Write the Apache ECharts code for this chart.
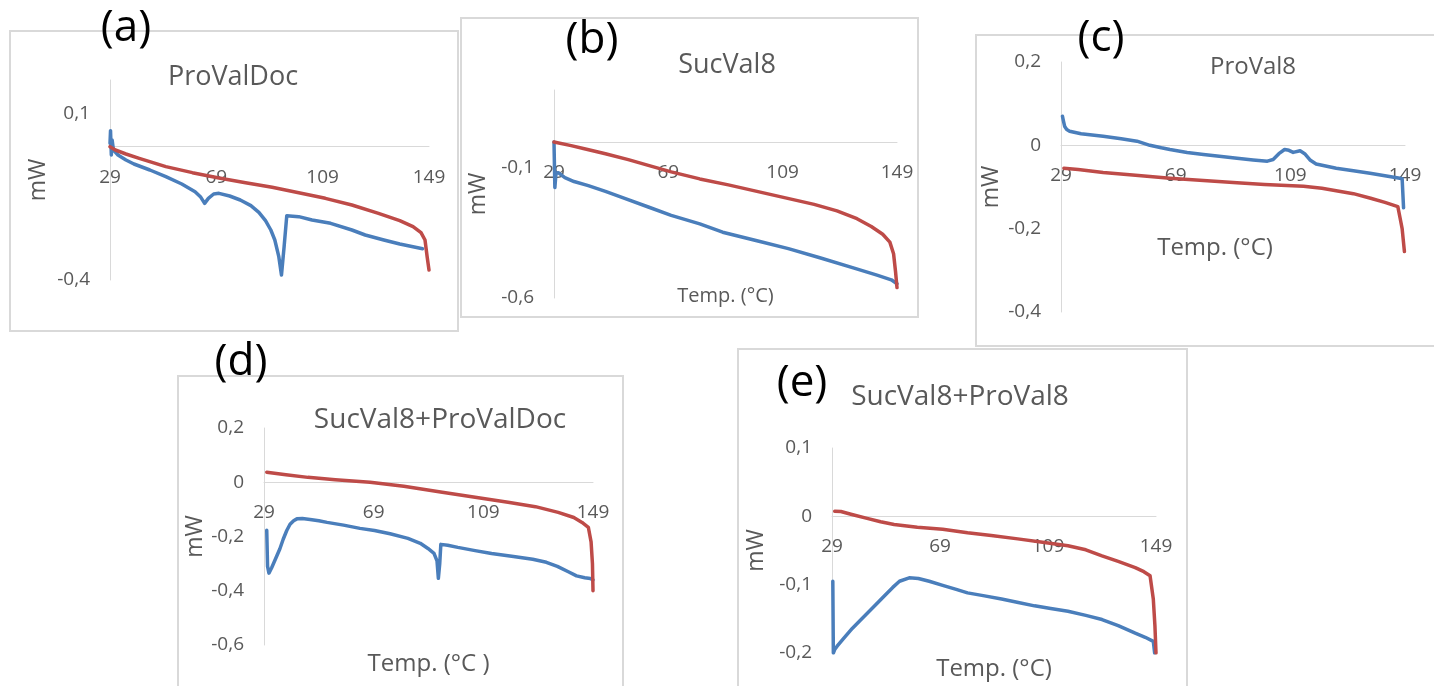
<!DOCTYPE html>
<html>
<head>
<meta charset="utf-8">
<script src="https://cdn.jsdelivr.net/npm/echarts@6/dist/echarts.min.js"></script>
<style>
  html, body { margin: 0; padding: 0; background: #fff; }
  #chart { width: 1434px; height: 686px; }
</style>
</head>
<body>
<div id="chart"></div>
<script>
// temperature ticks shared by all panels
const tempTicks = [29, 69, 109, 149];

// (a) ProValDoc
const aBlue = [[29,0.01],[29.2,0.048],[29.5,-0.025],[29.8,0.02],[30.3,-0.01],[32,-0.025],[35,-0.04],[38,-0.052],[44,-0.07],[50,-0.09],[56,-0.112],[61,-0.135],[63,-0.15],[64.6,-0.17],[66,-0.155],[68,-0.142],[70,-0.14],[74,-0.148],[78,-0.16],[82,-0.177],[85,-0.197],[87.5,-0.222],[89.5,-0.25],[91,-0.28],[92.5,-0.33],[93.5,-0.385],[94.5,-0.3],[95.5,-0.207],[100,-0.21],[105,-0.22],[112,-0.23],[120,-0.25],[125,-0.265],[132,-0.28],[138,-0.292],[146.6,-0.306]];
const aRed = [[29,0],[31,-0.01],[35,-0.022],[40,-0.035],[50,-0.06],[60,-0.078],[70,-0.094],[80,-0.108],[90,-0.122],[100,-0.138],[110,-0.155],[120,-0.175],[130,-0.2],[138,-0.222],[143,-0.24],[146,-0.258],[147.5,-0.28],[148.3,-0.33],[149,-0.37]];
const aTicks = [0.1, -0.4];

// (b) SucVal8
const bBlue = [[29,0],[29.3,-0.175],[29.7,-0.12],[30.5,-0.118],[32.8,-0.137],[36,-0.152],[41,-0.168],[47,-0.19],[53,-0.214],[62,-0.25],[70,-0.282],[80,-0.315],[88,-0.347],[100,-0.38],[111,-0.41],[122,-0.445],[134,-0.485],[142,-0.512],[147,-0.53],[149,-0.545]];
const bRed = [[29,0],[35,-0.014],[40,-0.027],[47,-0.045],[55,-0.068],[62,-0.09],[70,-0.115],[80,-0.142],[90,-0.165],[100,-0.19],[110,-0.215],[120,-0.24],[128,-0.265],[135,-0.295],[140,-0.325],[144,-0.355],[146.5,-0.385],[147.8,-0.43],[148.5,-0.5],[149,-0.56]];
const bTicks = [-0.1, -0.6];

// (c) ProVal8
const cBlue = [[29.5,0.07],[29.8,0.06],[30.3,0.045],[31,0.038],[32,0.034],[36,0.028],[43.7,0.022],[50,0.016],[55.5,0.01],[60,0],[64,-0.006],[67,-0.01],[73,-0.017],[78.7,-0.022],[85,-0.027],[90.4,-0.031],[96,-0.035],[101,-0.038],[103,-0.034],[105,-0.02],[107,-0.01],[108.5,-0.012],[110,-0.017],[112.4,-0.013],[114,-0.02],[116,-0.036],[118,-0.045],[125,-0.055],[131,-0.061],[136.8,-0.067],[142,-0.073],[147.2,-0.079],[148,-0.08],[148.5,-0.15]];
const cRed = [[30,-0.055],[35,-0.058],[43.7,-0.065],[55,-0.072],[67,-0.079],[80,-0.085],[90.4,-0.09],[100,-0.094],[113.6,-0.098],[120,-0.103],[125,-0.109],[131,-0.116],[137,-0.127],[142,-0.137],[146.5,-0.147],[147.3,-0.175],[148,-0.2],[148.8,-0.255]];
const cTicks = [0.2, 0, -0.2, -0.4];

// (d) SucVal8+ProValDoc
const dBlue = [[30,-0.177],[30.3,-0.31],[30.8,-0.335],[31.8,-0.315],[33.3,-0.28],[34.8,-0.245],[36,-0.21],[37.3,-0.178],[38.5,-0.155],[39.8,-0.142],[41,-0.135],[43,-0.134],[45.8,-0.137],[49,-0.142],[52,-0.148],[58,-0.158],[64,-0.17],[69.3,-0.178],[75,-0.19],[81.5,-0.207],[86,-0.225],[88.8,-0.244],[91,-0.262],[92.1,-0.29],[92.6,-0.354],[93.1,-0.3],[93.5,-0.229],[96,-0.232],[99.7,-0.24],[106,-0.252],[112,-0.263],[120,-0.274],[127,-0.284],[132,-0.295],[136,-0.31],[140,-0.33],[143,-0.345],[146,-0.352],[148,-0.355],[149,-0.36]];
const dRed = [[30,0.037],[37,0.028],[45,0.018],[55,0.009],[67.7,0],[80,-0.015],[94,-0.037],[106,-0.055],[118,-0.074],[128,-0.09],[136.3,-0.111],[142,-0.13],[145,-0.148],[147.3,-0.166],[148.3,-0.22],[148.8,-0.3],[149,-0.4]];
const dTicks = [0.2, 0, -0.2, -0.4, -0.6];

// (e) SucVal8+ProVal8
const eBlue = [[29.3,-0.095],[29.5,-0.2],[30,-0.195],[30.9,-0.19],[33,-0.18],[36.5,-0.164],[39.5,-0.152],[42.8,-0.139],[46,-0.126],[49,-0.114],[51.5,-0.104],[54,-0.095],[57.6,-0.09],[61,-0.091],[65,-0.095],[70,-0.101],[75,-0.107],[79.2,-0.112],[85,-0.116],[91.8,-0.121],[98,-0.126],[104,-0.131],[110,-0.135],[116.4,-0.139],[123,-0.145],[129,-0.151],[135,-0.16],[141.3,-0.171],[145,-0.177],[148,-0.183],[148.5,-0.2]];
const eRed = [[30,0.0074],[32.3,0.007],[36,0.003],[42,-0.003],[47,-0.008],[52,-0.012],[60.6,-0.016],[70,-0.019],[79.2,-0.024],[88,-0.028],[97.8,-0.033],[107,-0.038],[116.4,-0.043],[123,-0.049],[129,-0.058],[135,-0.066],[141.3,-0.075],[144.5,-0.081],[146.8,-0.087],[148,-0.121],[148.6,-0.16],[149,-0.2]];
const eTicks = [0.1, 0, -0.1, -0.2];

const FONT = '"Open Sans", sans-serif';
const GREY = '#595959';
const BLUE = '#4A7EBB';
const RED = '#BE4B48';

const panels = [
  {letter:'(a)', title:'ProValDoc', blue:aBlue, red:aRed, ticks:aTicks, min:-0.4, max:0.2, step:0.5,
   grid:{left:110, top:80, width:319, height:200}, frame:[10,31,448,300],
   letterPos:[126,28], titlePos:[233,77], titleSize:27, mwGap:60, temp:null},
  {letter:'(b)', title:'SucVal8', blue:bBlue, red:bRed, ticks:bTicks, min:-0.6, max:0.2, step:0.5,
   grid:{left:554, top:90, width:343, height:208}, frame:[461,18,457,299],
   letterPos:[592,40], titlePos:[727,65], titleSize:27, mwGap:64, temp:{gap:144, size:20, shift:0}},
  {letter:'(c)', title:'ProVal8', blue:cBlue, red:cRed, ticks:cTicks, min:-0.4, max:0.2, step:0.2,
   grid:{left:1061, top:62, width:344, height:250}, frame:[976,35,470,311],
   letterPos:[1101,38], titlePos:[1253,67], titleSize:24, mwGap:58, temp:{gap:91, size:24, shift:36}},
  {letter:'(d)', title:'SucVal8+ProValDoc', blue:dBlue, red:dRed, ticks:dTicks, min:-0.6, max:0.2, step:0.2,
   grid:{left:264, top:428, width:329, height:217}, frame:[178,376,445,330],
   letterPos:[241,362], titlePos:[440,420], titleSize:28, mwGap:57, temp:{gap:170, size:24, shift:0, text:'Temp. (°C )'}},
  {letter:'(e)', title:'SucVal8+ProVal8', blue:eBlue, red:eRed, ticks:eTicks, min:-0.2, max:0.1, step:0.1,
   grid:{left:832, top:448, width:324, height:205}, frame:[738,349,449,360],
   letterPos:[802,383], titlePos:[960,397], titleSize:28, mwGap:64, temp:{gap:141, size:24, shift:0}}
];

function commaLabel(ticks) {
  return function (v) {
    const r = Math.round(v * 10) / 10;
    if (!ticks.some(t => Math.abs(t - r) < 1e-9)) return '';
    return String(r).replace('.', ',');
  };
}

const grids = [], xAxes = [], yAxes = [], series = [], graphics = [];

panels.forEach((p, i) => {
  const [fx, fy, fw, fh] = p.frame;
  graphics.push({type:'rect', shape:{x:fx, y:fy, width:fw, height:fh},
    style:{fill:'none', stroke:'#D9D9D9', lineWidth:2}, z:-10, silent:true});
  graphics.push({type:'text', x:p.letterPos[0], y:p.letterPos[1],
    style:{text:p.letter, fill:'#000', fontSize:44, fontFamily:FONT, align:'center', verticalAlign:'middle'}});
  graphics.push({type:'text', x:p.titlePos[0], y:p.titlePos[1],
    style:{text:p.title, fill:GREY, fontSize:p.titleSize, fontFamily:FONT, align:'center', verticalAlign:'middle'}});

  grids.push(Object.assign({containLabel:false, outerBoundsMode:'none'}, p.grid));

  // x axis sits on mW = 0, like the Excel original: lift it from the grid bottom
  const zeroLift = p.grid.height * (0 - p.min) / (p.max - p.min);

  xAxes.push({
    type:'value', gridIndex:i, min:tempTicks[0], max:tempTicks[tempTicks.length - 1], interval:40,
    offset:-zeroLift,
    name: p.temp ? (p.temp.text || 'Temp. (°C)') : '',
    nameLocation:'middle', nameGap: p.temp ? p.temp.gap : 0,
    nameTextStyle: p.temp ? {color:GREY, fontSize:p.temp.size, fontFamily:FONT, padding:[0, p.temp.shift, 0, 0]} : {},
    axisLine:{onZero:false, lineStyle:{color:'#D9D9D9', width:1}},
    axisTick:{show:false}, splitLine:{show:false},
    axisLabel:{margin:21, color:GREY, fontSize:19, fontFamily:FONT}
  });

  yAxes.push({
    type:'value', gridIndex:i, min:p.min, max:p.max, interval:p.step,
    name:'mW', nameLocation:'middle', nameGap:p.mwGap, nameRotate:90,
    nameTextStyle:{color:GREY, fontSize:23, fontFamily:FONT},
    axisLine:{show:true, lineStyle:{color:'#D9D9D9', width:1}},
    axisTick:{show:false}, splitLine:{show:false},
    axisLabel:{margin:20, color:GREY, fontSize:19, fontFamily:FONT, formatter:commaLabel(p.ticks)}
  });

  series.push({type:'line', xAxisIndex:i, yAxisIndex:i, data:p.blue, showSymbol:false,
    lineStyle:{color:BLUE, width:3.5, join:'round', cap:'round'}, itemStyle:{color:BLUE}});
  series.push({type:'line', xAxisIndex:i, yAxisIndex:i, data:p.red, showSymbol:false,
    lineStyle:{color:RED, width:3.5, join:'round', cap:'round'}, itemStyle:{color:RED}});
});

const chart = echarts.init(document.getElementById('chart'));
chart.setOption({
  animation:false,
  backgroundColor:'#fff',
  grid:grids,
  xAxis:xAxes,
  yAxis:yAxes,
  series:series,
  graphic:graphics
});
</script>
</body>
</html>
